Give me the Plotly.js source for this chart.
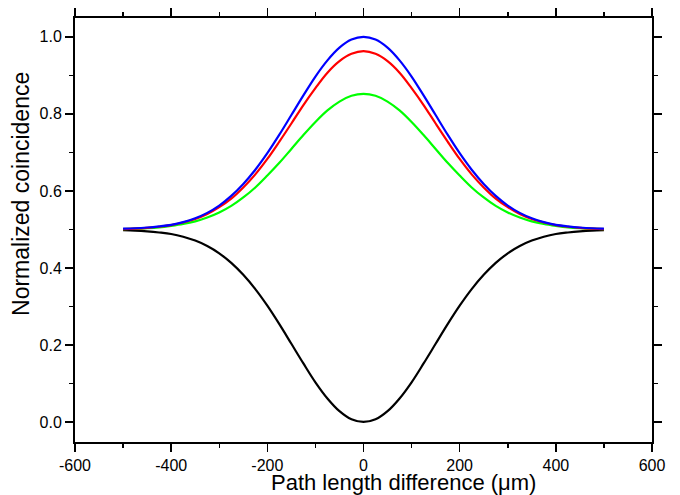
<!DOCTYPE html>
<html>
<head>
<meta charset="utf-8">
<script src="https://cdn.plot.ly/plotly-3.0.1.min.js"></script>
<style>html,body{margin:0;padding:0;background:#fff;}#chart{width:680px;height:495px;}</style>
</head>
<body>
<div id="chart"></div>
<script>
const pathDiff = [-500,-475,-450,-425,-400,-375,-350,-325,-300,-275,-250,-225,-200,-175,-150,-125,-100,-75,-50,-25,0,25,50,75,100,125,150,175,200,225,250,275,300,325,350,375,400,425,450,475,500];
const blackVals = [0.498,0.497,0.495,0.492,0.488,0.481,0.471,0.457,0.438,0.413,0.382,0.345,0.302,0.254,0.203,0.152,0.103,0.061,0.028,0.007,0.000,0.007,0.028,0.061,0.103,0.152,0.203,0.254,0.302,0.345,0.382,0.413,0.438,0.457,0.471,0.481,0.488,0.492,0.495,0.497,0.498];
const greenVals = [0.501,0.502,0.503,0.505,0.509,0.514,0.521,0.531,0.544,0.561,0.583,0.609,0.640,0.673,0.709,0.745,0.779,0.809,0.832,0.847,0.852,0.847,0.832,0.809,0.779,0.745,0.709,0.673,0.640,0.609,0.583,0.561,0.544,0.531,0.521,0.514,0.509,0.505,0.503,0.502,0.501];
const redVals = [0.501,0.502,0.504,0.507,0.511,0.518,0.527,0.540,0.558,0.580,0.609,0.643,0.683,0.728,0.775,0.823,0.867,0.907,0.937,0.956,0.963,0.956,0.937,0.907,0.867,0.823,0.775,0.728,0.683,0.643,0.609,0.580,0.558,0.540,0.527,0.518,0.511,0.507,0.504,0.502,0.501];
const blueVals = [0.502,0.503,0.505,0.508,0.512,0.519,0.529,0.543,0.562,0.587,0.618,0.655,0.698,0.746,0.797,0.848,0.897,0.939,0.972,0.993,1.000,0.993,0.972,0.939,0.897,0.848,0.797,0.746,0.698,0.655,0.618,0.587,0.562,0.543,0.529,0.519,0.512,0.508,0.505,0.503,0.502];
const xTickVals = [-600,-400,-200,0,200,400,600];
const xTickText = ['-600','-400','-200','0','200','400','600'];
const yTickVals = [0,0.2,0.4,0.6,0.8,1.0];
const yTickText = ['0.0','0.2','0.4','0.6','0.8','1.0'];
const seriesList = [
  {y: blackVals, color: '#000000'},
  {y: greenVals, color: '#00ff00'},
  {y: redVals, color: '#ff0000'},
  {y: blueVals, color: '#0000ff'}
];
const xTitle = 'Path length difference (\u03bcm)';
const yTitle = 'Normalized coincidence';
const FONT = 'Liberation Sans, Arial, sans-serif';

const traces = seriesList.map(s => ({
  x: pathDiff, y: s.y, type: 'scatter', mode: 'lines',
  line: {color: s.color, width: 2.2, shape: 'spline'}, hoverinfo: 'skip'
}));

const axisCommon = {
  showgrid: false, zeroline: false, showline: true, linecolor: '#000', linewidth: 2,
  mirror: 'allticks', ticks: 'outside', ticklen: 8, tickwidth: 1.5, tickcolor: '#000',
  tickfont: {family: FONT, size: 16, color: '#000'}
};

const layout = {
  width: 680, height: 495,
  margin: {l: 75, r: 28, t: 18, b: 53},
  paper_bgcolor: '#fff', plot_bgcolor: '#fff',
  showlegend: false,
  font: {family: FONT, color: '#000'},
  xaxis: Object.assign({}, axisCommon, {
    range: [-600, 600], tickmode: 'array', tickvals: xTickVals, ticktext: xTickText,
    minor: {tickmode: 'linear', tick0: -600, dtick: 100, ticklen: 4, tickwidth: 1.5, tickcolor: '#000', ticks: 'outside', showgrid: false}
  }),
  yaxis: Object.assign({}, axisCommon, {
    range: [-0.052, 1.049], tickmode: 'array', tickvals: yTickVals, ticktext: yTickText,
    minor: {tickmode: 'linear', tick0: 0, dtick: 0.1, ticklen: 4, tickwidth: 1.5, tickcolor: '#000', ticks: 'outside', showgrid: false}
  }),
  annotations: [
    {text: xTitle, xref: 'paper', yref: 'paper', x: 0.57, y: 0, yshift: -40, xanchor: 'center', yanchor: 'middle',
     showarrow: false, font: {size: 22, family: FONT, color: '#000'}},
    {text: yTitle, xref: 'paper', yref: 'paper', x: 0, xshift: -54, y: 0.585, xanchor: 'center', yanchor: 'middle',
     textangle: -90, showarrow: false, font: {size: 23, family: FONT, color: '#000'}}
  ]
};

Plotly.newPlot('chart', traces, layout, {staticPlot: true, displayModeBar: false});
</script>
</body>
</html>
